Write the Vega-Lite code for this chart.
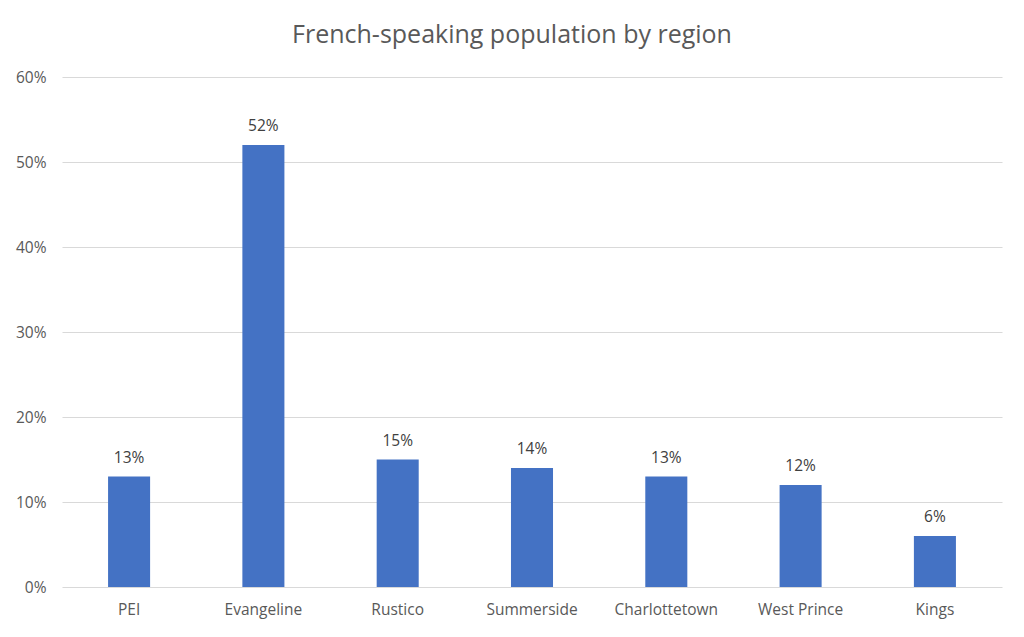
{
  "$schema": "https://vega.github.io/schema/vega-lite/v6.json",
  "autosize": {"type": "none"},
  "padding": {"left": 62, "top": 77, "right": 22, "bottom": 50},
  "width": 940,
  "height": 510,
  "background": "white",
  "title": {
    "text": "French-speaking population by region",
    "font": "Open Sans",
    "fontSize": 25,
    "fontWeight": "normal",
    "color": "#595959",
    "anchor": "middle",
    "dx": -20,
    "offset": 22
  },
  "data": {
    "values": [
      {"region": "PEI", "share": 0.13},
      {"region": "Evangeline", "share": 0.52},
      {"region": "Rustico", "share": 0.15},
      {"region": "Summerside", "share": 0.14},
      {"region": "Charlottetown", "share": 0.13},
      {"region": "West Prince", "share": 0.12},
      {"region": "Kings", "share": 0.06}
    ]
  },
  "config": {
    "view": {"stroke": null},
    "axis": {
      "labelFont": "Open Sans",
      "labelFontSize": 15.5,
      "labelColor": "#595959",
      "domain": false,
      "ticks": false,
      "title": null
    }
  },
  "encoding": {
    "x": {
      "field": "region",
      "type": "nominal",
      "sort": null,
      "scale": {"paddingInner": 0.687, "paddingOuter": 0.343},
      "axis": {"labelAngle": 0, "labelPadding": 15, "grid": false}
    },
    "y": {
      "field": "share",
      "type": "quantitative",
      "scale": {"domain": [0, 0.6], "nice": false},
      "axis": {
        "format": ".0%",
        "values": [0, 0.1, 0.2, 0.3, 0.4, 0.5, 0.6],
        "gridColor": "#d9d9d9",
        "gridWidth": 1,
        "labelPadding": 16
      }
    }
  },
  "layer": [
    {"mark": {"type": "bar", "color": "#4472C4"}},
    {
      "mark": {
        "type": "text",
        "dy": -19,
        "font": "Open Sans",
        "fontSize": 15.5,
        "color": "#404040"
      },
      "encoding": {"text": {"field": "share", "format": ".0%"}}
    }
  ]
}
